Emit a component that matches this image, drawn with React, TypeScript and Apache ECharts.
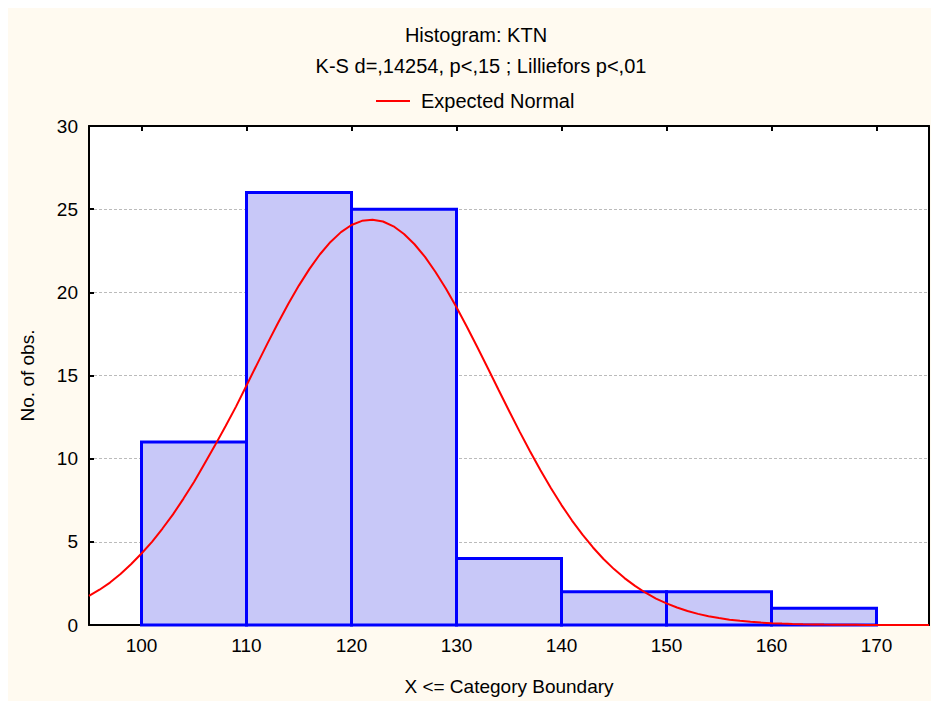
import React, { useEffect, useRef } from "react";
import * as echarts from "echarts";

const binStart = [100, 110, 120, 130, 140, 150, 160];
const binEnd = [110, 120, 130, 140, 150, 160, 170];
const counts = [11, 26, 25, 4, 2, 2, 1];

const curveX = [
  95, 96, 97, 98, 99, 100, 101, 102, 103, 104, 105, 106, 107, 108, 109, 110,
  111, 112, 113, 114, 115, 116, 117, 118, 119, 120, 121, 122, 123, 124, 125,
  126, 127, 128, 129, 130, 131, 132, 133, 134, 135, 136, 137, 138, 139, 140,
  141, 142, 143, 144, 145, 146, 147, 148, 149, 150, 151, 152, 153, 154, 155,
  156, 157, 158, 159, 160, 161, 162, 163, 164, 165, 166, 167, 168, 169, 170,
  171, 172, 173, 174, 175,
];
const curveY = [
  1.75, 2.12, 2.55, 3.07, 3.65, 4.3, 5.0, 5.8, 6.65, 7.6, 8.6, 9.7, 10.8, 11.95, 13.13, 14.4,
  15.67, 16.93, 18.16, 19.33, 20.42, 21.41, 22.29, 23.03, 23.62, 24.05, 24.3, 24.37, 24.26, 23.97, 23.51,
  22.89, 22.13, 21.22, 20.21, 19.1, 17.92, 16.68, 15.42, 14.14, 12.88, 11.64, 10.45, 9.3, 8.22, 7.21,
  6.28, 5.43, 4.66, 3.97, 3.36, 2.82, 2.35, 1.94, 1.59, 1.3, 1.05, 0.84, 0.67, 0.53, 0.42,
  0.32, 0.25, 0.19, 0.146, 0.11, 0.083, 0.062, 0.046, 0.034, 0.024, 0.018, 0.013, 0.009, 0.006, 0.004,
  0.003, 0.002, 0.0015, 0.001, 0.001,
];

const xTicks = [100, 110, 120, 130, 140, 150, 160, 170];

const titleText = "Histogram: KTN";
const subtitleText = "K-S d=,14254, p<,15 ; Lilliefors p<,01";
const legendName = "Expected Normal";
const xName = "X <= Category Boundary";
const yName = "No. of obs.";

const FONT = '"Liberation Sans", Arial, sans-serif';

export default function App() {
  const ref = useRef<HTMLDivElement>(null);
  useEffect(() => {
    if (!ref.current) return;
    const chart = echarts.init(ref.current, null, { renderer: "svg" });
    const binData = binStart.map((s, i) => [s, binEnd[i], counts[i]]);
    const lineData = curveX.map((x, i) => [x, curveY[i]]);
    chart.setOption({
      animation: false,
      backgroundColor: "#FFFAF0",
      textStyle: { fontFamily: FONT },
      graphic: [
        {
          type: "text",
          x: 468,
          y: 27,
          style: { text: titleText, font: `20px ${FONT}`, textAlign: "center", textVerticalAlign: "middle", fill: "#000" },
        },
        {
          type: "text",
          x: 473,
          y: 58,
          style: { text: subtitleText, font: `20px ${FONT}`, textAlign: "center", textVerticalAlign: "middle", fill: "#000" },
        },
      ],
      legend: {
        left: 363,
        top: 78,
        itemWidth: 34,
        itemHeight: 2,
        itemGap: 10,
        icon: "rect",
        data: [legendName],
        textStyle: { fontSize: 20, fontFamily: FONT, color: "#000", padding: [0, 0, 0, 6] },
      },
      grid: {
        left: 81,
        top: 118,
        right: 2,
        bottom: 76,
        show: true,
        backgroundColor: "#FFFFFF",
        borderWidth: 0,
      },
      xAxis: [
        {
          type: "value",
          min: 95,
          max: 175,
          position: "bottom",
          name: xName,
          nameLocation: "middle",
          nameGap: 52,
          nameTextStyle: { fontSize: 19, fontFamily: FONT, color: "#000" },
          axisLine: { show: true, lineStyle: { color: "#000", width: 2 } },
          axisTick: { show: true, inside: true, length: 5, customValues: xTicks, lineStyle: { color: "#000", width: 2 } },
          axisLabel: { show: true, customValues: xTicks, fontSize: 19, fontFamily: FONT, color: "#000", margin: 11 },
          splitLine: { show: false },
        },
        {
          type: "value",
          min: 95,
          max: 175,
          position: "top",
          axisLine: { show: true, onZero: false, lineStyle: { color: "#000", width: 2 } },
          axisTick: { show: true, inside: true, length: 5, customValues: xTicks, lineStyle: { color: "#000", width: 2 } },
          axisLabel: { show: false },
          splitLine: { show: false },
        },
      ],
      yAxis: [
        {
          type: "value",
          min: 0,
          max: 30,
          interval: 5,
          position: "left",
          name: yName,
          nameLocation: "middle",
          nameGap: 52,
          nameTextStyle: { fontSize: 19, fontFamily: FONT, color: "#000" },
          axisLine: { show: true, lineStyle: { color: "#000", width: 2 } },
          axisTick: { show: true, inside: true, length: 5, lineStyle: { color: "#000", width: 2 } },
          axisLabel: { fontSize: 19, fontFamily: FONT, color: "#000", margin: 11 },
          splitLine: { show: true, lineStyle: { color: "#BBBBBB", type: [3, 2], width: 1 } },
        },
        {
          type: "value",
          min: 0,
          max: 30,
          interval: 5,
          position: "right",
          axisLine: { show: true, onZero: false, lineStyle: { color: "#000", width: 2 } },
          axisTick: { show: false },
          axisLabel: { show: false },
          splitLine: { show: false },
        },
      ],
      series: [
        {
          type: "custom",
          name: "bins",
          xAxisIndex: 0,
          yAxisIndex: 0,
          encode: { x: [0, 1], y: 2 },
          data: binData,
          renderItem: (params: any, api: any) => {
            const s = api.value(0);
            const e = api.value(1);
            const v = api.value(2);
            const p0 = api.coord([s, v]);
            const p1 = api.coord([e, 0]);
            return {
              type: "rect",
              shape: { x: p0[0], y: p0[1], width: p1[0] - p0[0], height: p1[1] - p0[1] },
              style: { fill: "#C8C8F8", stroke: "#0000FF", lineWidth: 3 },
            };
          },
          z: 2,
        },
        {
          type: "line",
          name: legendName,
          xAxisIndex: 0,
          yAxisIndex: 0,
          data: lineData,
          smooth: false,
          showSymbol: false,
          symbol: "none",
          lineStyle: { color: "#FF0000", width: 2 },
          itemStyle: { color: "#FF0000" },
          z: 3,
        },
      ],
    });
    return () => chart.dispose();
  }, []);
  return <div ref={ref} style={{ position: "absolute", left: 8, top: 8, width: 923, height: 693 }} />;
}
